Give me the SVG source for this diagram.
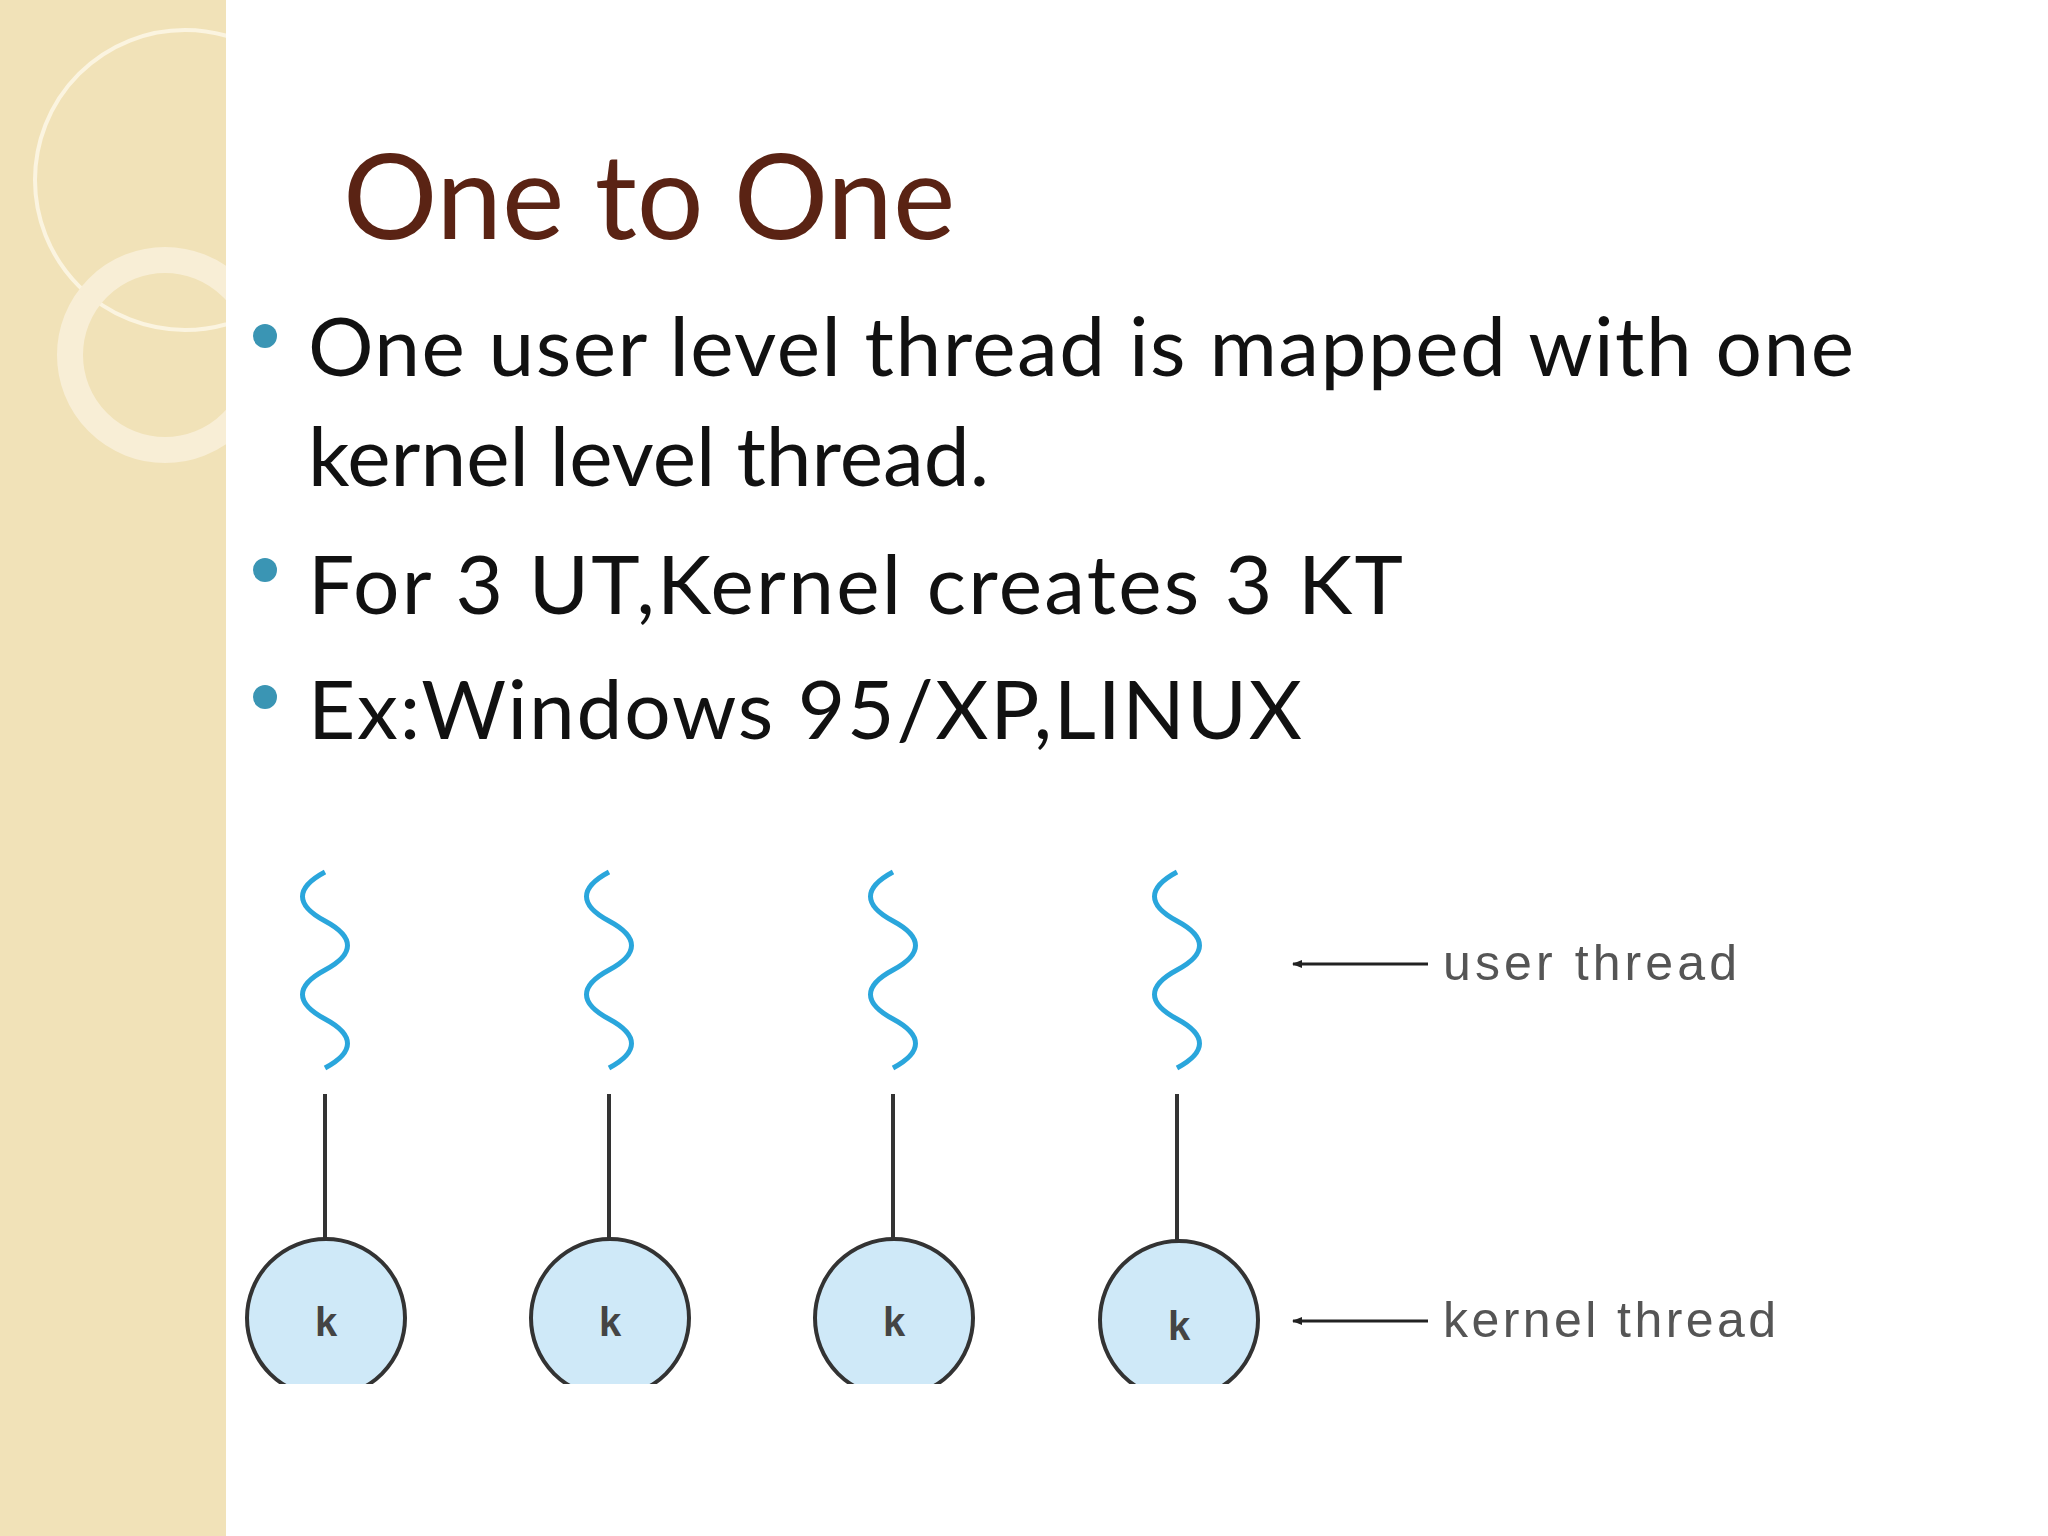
<svg xmlns="http://www.w3.org/2000/svg" width="2048" height="1536" viewBox="0 0 2048 1536">
<defs>
<style>
.body{font-family:"Lato","Open Sans",sans-serif;font-size:82px;fill:#111}
.lbl{font-family:"Liberation Sans",Arial,sans-serif;font-size:50px;fill:#555}
.k{font-family:"Liberation Sans",Arial,sans-serif;font-size:40px;font-weight:bold;fill:#444;text-anchor:middle}
.sq{fill:none;stroke:#2aa6dc;stroke-width:5}
.ln{stroke:#333;stroke-width:4}
.node{fill:#cfe9f8;stroke:#333;stroke-width:4}
</style>
<clipPath id="band"><rect width="226" height="1536"/></clipPath>
<marker id="ah" markerWidth="10" markerHeight="8" refX="9" refY="4" orient="auto" markerUnits="userSpaceOnUse"><path d="M0,0 L10,4 L0,8 Z" fill="#222"/></marker>
<path id="wave" d="M0,0 c-30,16 -30,33 0,49 c30,16 30,33 0,49 c-30,16 -30,33 0,49 c30,16 30,33 0,49"/>
</defs>
<rect width="2048" height="1536" fill="#fff"/>
<rect width="226" height="1536" fill="#f1e2b8"/>
<g clip-path="url(#band)">
<circle cx="185" cy="180" r="150" fill="none" stroke="#fbf4e0" stroke-width="4"/>
<circle cx="165" cy="355" r="95" fill="none" stroke="#f8eed6" stroke-width="26"/>
</g>
<text x="343" y="239" style="font-family:Lato,'Open Sans',sans-serif;font-size:118px;fill:#5a2314">One to One</text>
<g fill="#3a95b4"><circle cx="265" cy="336" r="12"/><circle cx="265" cy="570" r="12"/><circle cx="265" cy="697" r="12"/></g>
<text class="body" x="308" y="376" textLength="1546">One user level thread is mapped with one</text>
<text class="body" x="308" y="486">kernel level thread.</text>
<text class="body" x="308" y="614" textLength="1095">For 3 UT,Kernel creates 3 KT</text>
<text class="body" x="308" y="739" textLength="994">Ex:Windows 95/XP,LINUX</text>
<g id="connectors">
<line class="ln" x1="325" y1="1094" x2="325" y2="1247"/>
<line class="ln" x1="609" y1="1094" x2="609" y2="1247"/>
<line class="ln" x1="893" y1="1094" x2="893" y2="1247"/>
<line class="ln" x1="1177" y1="1094" x2="1177" y2="1249"/>
<line x1="1428" y1="964" x2="1293" y2="964" stroke="#222" stroke-width="3" marker-end="url(#ah)"/>
<line x1="1428" y1="1321" x2="1293" y2="1321" stroke="#222" stroke-width="3" marker-end="url(#ah)"/>
</g>
<g id="u1"><use href="#wave" class="sq" x="325" y="872"/></g>
<g id="u2"><use href="#wave" class="sq" x="609" y="872"/></g>
<g id="u3"><use href="#wave" class="sq" x="893" y="872"/></g>
<g id="u4"><use href="#wave" class="sq" x="1177" y="872"/></g>
<g id="k1"><circle class="node" cx="326" cy="1318" r="79"/><text class="k" x="326" y="1336">k</text></g>
<g id="k2"><circle class="node" cx="610" cy="1318" r="79"/><text class="k" x="610" y="1336">k</text></g>
<g id="k3"><circle class="node" cx="894" cy="1318" r="79"/><text class="k" x="894" y="1336">k</text></g>
<g id="k4"><circle class="node" cx="1179" cy="1320" r="79"/><text class="k" x="1179" y="1340">k</text></g>
<rect x="226" y="1384" width="1200" height="152" fill="#fff"/>
<text class="lbl" x="1443" y="980" textLength="294">user thread</text>
<text class="lbl" x="1443" y="1337" textLength="333">kernel thread</text>
</svg>
